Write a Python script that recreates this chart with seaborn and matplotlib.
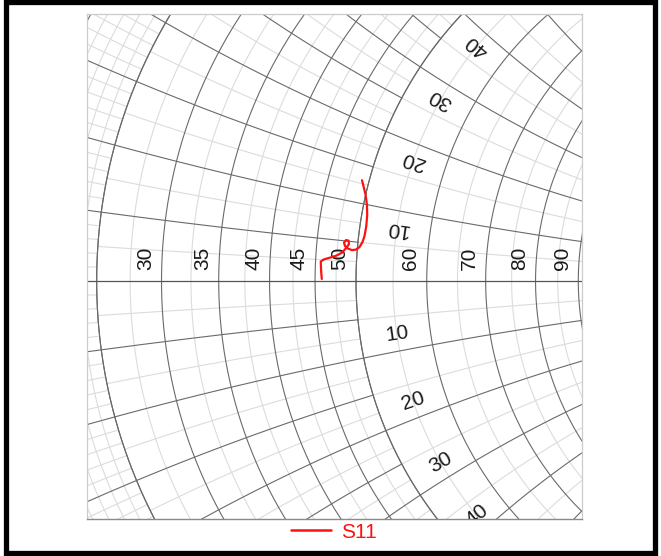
import numpy as np
import matplotlib
matplotlib.use("Agg")
import matplotlib.pyplot as plt
import seaborn as sns
from matplotlib.patches import Rectangle
from matplotlib.lines import Line2D

# ---------------- data ----------------
Z0 = 50.0
series_name = "S11"
s11_re = [-0.0440, -0.0449, -0.0453, -0.0417, -0.0333, -0.0250, -0.0179, -0.0128,
          -0.0090, -0.0096, -0.0128, -0.0154, -0.0141, -0.0103, -0.0051, 0.0000,
          0.0045, 0.0083, 0.0109, 0.0132, 0.0144, 0.0141, 0.0124, 0.0100, 0.0077]
s11_im = [0.0026, 0.0141, 0.0250, 0.0276, 0.0301, 0.0327, 0.0365, 0.0423,
          0.0474, 0.0519, 0.0526, 0.0494, 0.0449, 0.0417, 0.0397, 0.0404,
          0.0436, 0.0500, 0.0577, 0.0705, 0.0846, 0.0974, 0.1103, 0.1205, 0.1295]
# labelled resistance circles and reactance arcs (ohms)
r_labels = [30, 35, 40, 45, 50, 60, 70, 80, 90]
x_labels = [10, 20, 30, 40]
x_label_r = 55  # resistance circle on which reactance labels sit

# adaptive grid regions: (r_lo, r_hi, x_max, major step, minor step)
regions = [(0, 25, 25, 5, 1), (25, 50, 50, 5, 2.5), (50, 100, 100, 10, 5)]

MAJOR_C = "#6a6a6a"
MINOR_C = "#dcdcdc"
TEXT_C = "#1a1a1a"
FS = 15

sns.set_theme(style="white")
plt.rcParams["font.family"] = ["Liberation Sans", "DejaVu Sans"]

fig = plt.figure(figsize=(6.61, 5.56), dpi=100)
ax = fig.add_axes([87 / 661, 37 / 556, 495 / 661, 505 / 556])


def gamma(z):
    return (z - 1) / (z + 1)


def r_seg(r, x0, x1):
    x = np.linspace(x0, x1, 800)
    g = gamma((r + 1j * x) / Z0)
    return g.real, g.imag


def x_seg(x, r0, r1):
    r = np.linspace(r0, r1, 800)
    g = gamma((r + 1j * x) / Z0)
    return g.real, g.imag


def is_major(v, step):
    q = v / step
    return abs(q - round(q)) < 1e-9


for (r_lo, r_hi, x_max, maj, mnr) in regions:
    rvals = np.arange(r_lo, r_hi + 1e-9, mnr)
    xvals = np.arange(-x_max, x_max + 1e-9, mnr)
    for v in rvals:
        if v <= 0:
            continue
        major = is_major(v, maj)
        gx, gy = r_seg(v, -x_max, x_max)
        ax.plot(gx, gy, color=MAJOR_C if major else MINOR_C,
                lw=0.8, zorder=2 if major else 1, solid_capstyle="butt")
    for v in xvals:
        if abs(v) < 1e-9:
            continue
        major = is_major(v, maj)
        gx, gy = x_seg(v, max(r_lo, 0.0), r_hi)
        ax.plot(gx, gy, color=MAJOR_C if major else MINOR_C,
                lw=0.8, zorder=2 if major else 1, solid_capstyle="butt")

ax.axhline(0, color="#555555", lw=0.9, zorder=2)

# resistance labels
for v in r_labels:
    g = gamma(v / Z0)
    ax.annotate(str(v), xy=(g.real, 0), xytext=(-16 * 0.72, 22.5 * 0.72),
                textcoords="offset points", rotation=90, ha="center",
                va="center", fontsize=FS, color=TEXT_C, zorder=4)

# reactance labels
for X in x_labels:
    for s in (1, -1):
        z = (x_label_r + 1j * s * (X - 2.5)) / Z0
        g = gamma(z)
        d = 2 / (z + 1) ** 2
        ang = np.degrees(np.angle(d))
        if s > 0:
            ang += 180
        ax.text(g.real, g.imag, str(X), rotation=ang, rotation_mode="anchor",
                ha="center", va="center", fontsize=FS, color=TEXT_C,
                clip_on=True, zorder=4)

# trace
sns.lineplot(x=s11_re, y=s11_im, sort=False, estimator=None, color="#ff1010",
             lw=1.6, ax=ax, legend=False, zorder=5)

ax.set_xlim((87 - 356) / 778, (582 - 356) / 778)
ax.set_ylim((281 - 519) / 778, (281 - 14) / 778)
ax.set_xticks([])
ax.set_yticks([])
ax.set_xlabel("")
ax.set_ylabel("")
for side in ("top", "left", "right"):
    ax.spines[side].set_color("#cccccc")
    ax.spines[side].set_linewidth(0.9)
ax.spines["bottom"].set_color("#8a8a8a")
ax.spines["bottom"].set_linewidth(1.0)

handle = Line2D([], [], color="#ff1010", lw=1.8)
fig.legend(handles=[handle], labels=[series_name], loc="center",
           bbox_to_anchor=(333.5 / 661, 24 / 556), frameon=False,
           fontsize=FS, labelcolor="#ff1010", handlelength=1.95,
           handletextpad=0.45)

fig.patches.append(Rectangle((5.5 / 661, 3 / 556), 649.5 / 661, 551 / 556,
                             transform=fig.transFigure, fill=False,
                             ec="black", lw=3.8))

fig.savefig("out.png", dpi=100, facecolor="white")
